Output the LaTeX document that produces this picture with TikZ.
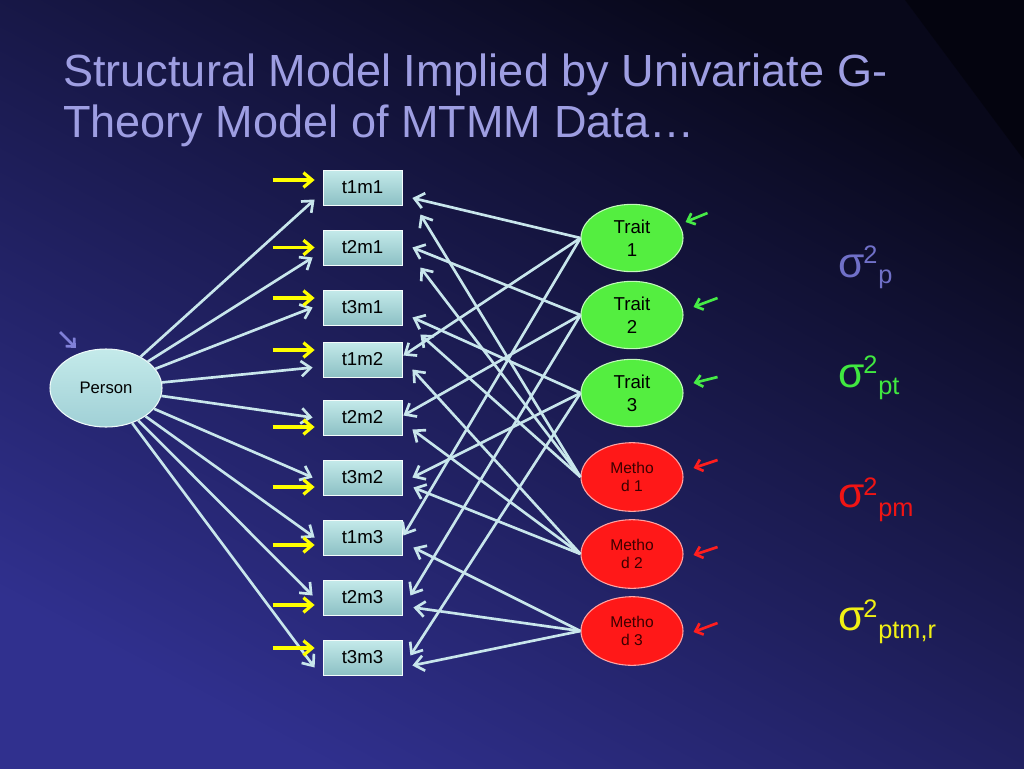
\documentclass[tikz,border=0pt]{standalone}
\usepackage{fontspec}
\setmainfont{Liberation Sans}
\usetikzlibrary{shapes.geometric,arrows.meta,calc}
\definecolor{bgA}{RGB}{48,48,142}
\definecolor{bgM}{RGB}{36,36,112}
\definecolor{bgB}{RGB}{8,8,26}
\definecolor{titlec}{RGB}{158,158,226}
\definecolor{linec}{RGB}{200,230,236}
\definecolor{boxtop}{RGB}{196,234,234}
\definecolor{boxbot}{RGB}{140,192,196}
\definecolor{perstop}{RGB}{196,234,234}
\definecolor{persbot}{RGB}{160,208,214}
\definecolor{traitc}{RGB}{84,238,64}
\definecolor{methc}{RGB}{255,24,24}
\definecolor{methtxt}{RGB}{60,0,0}
\definecolor{yarr}{RGB}{255,255,0}
\definecolor{garr}{RGB}{70,235,70}
\definecolor{rarr}{RGB}{255,30,30}
\definecolor{parr}{RGB}{128,128,216}
\definecolor{sigp}{RGB}{112,112,200}
\definecolor{sigt}{RGB}{64,232,64}
\definecolor{sigm}{RGB}{240,20,20}
\definecolor{sige}{RGB}{240,240,20}
\tikzset{
  obs/.style={rectangle, minimum width=59.25pt, minimum height=26.25pt, inner sep=0pt,
    top color=boxtop, bottom color=boxbot, draw=white!80!boxtop, line width=0.6pt,
    font=\fontsize{14}{16}\selectfont, text=black},
  latperson/.style={ellipse, minimum width=84pt, minimum height=58.5pt, inner sep=0pt,
    top color=perstop, bottom color=persbot, draw=white!70!perstop, line width=0.8pt,
    font=\fontsize{12.5}{14}\selectfont, text=black},
  trait/.style={ellipse, minimum width=76.5pt, minimum height=50.5pt, inner sep=0pt,
    fill=traitc, draw=white!65!traitc, line width=0.8pt, align=center,
    font=\fontsize{14}{17}\selectfont, text=black},
  meth/.style={ellipse, minimum width=76.5pt, minimum height=51.5pt, inner sep=0pt,
    fill=methc, draw=white!60!methc, line width=0.8pt, align=center,
    font=\fontsize{11.7}{13.8}\selectfont, text=methtxt},
  conn/.style={draw=linec, line width=2pt, -{Straight Barb[length=7pt,width=11.5pt]}},
  yerr/.style={draw=yarr, line width=2.4pt, -{Straight Barb[length=6.5pt,width=11pt]}},
  gerr/.style={draw=garr, line width=2pt, -{Straight Barb[length=5pt,width=9pt]}},
  rerr/.style={draw=rarr, line width=2pt, -{Straight Barb[length=5pt,width=9pt]}},
  perr/.style={draw=parr, line width=2pt, -{Straight Barb[length=5pt,width=9pt]}},
  titletext/.style={anchor=base west, inner sep=0pt, text=titlec, font=\fontsize{33.8}{36}\selectfont},
  sigbig/.style={anchor=base west, inner sep=0pt, font=\fontsize{32}{32}\selectfont},
  sigsmall/.style={anchor=base west, inner sep=0pt, font=\fontsize{19}{19}\selectfont},
}
\begin{document}
\begin{tikzpicture}[x=0.75pt,y=-0.75pt]
\useasboundingbox (0,0) rectangle (1024,768);
% background
\shade[bottom color=bgA, middle color=bgM, top color=bgB, shading angle=-28] (0,0) rectangle (1024,768);
\fill[black, opacity=0.4] (905,0) -- (1024,0) -- (1024,160) -- cycle;

% title
\node[titletext] (title1) at (63,86) {Structural Model Implied by Univariate G-};
\node[titletext] (title2) at (63,137) {Theory Model of MTMM Data…};

% nodes
\node[latperson] (person) at (106,388) {Person};
\node[obs] (b11) at (362.5,187.5) {t1m1};
\node[obs] (b21) at (362.5,247.5) {t2m1};
\node[obs] (b31) at (362.5,307.5) {t3m1};
\node[obs] (b12) at (362.5,359.5) {t1m2};
\node[obs] (b22) at (362.5,417.5) {t2m2};
\node[obs] (b32) at (362.5,477.5) {t3m2};
\node[obs] (b13) at (362.5,537.5) {t1m3};
\node[obs] (b23) at (362.5,597.5) {t2m3};
\node[obs] (b33) at (362.5,657.5) {t3m3};
\node[trait] (tr1) at (632,238) {Trait\\1};
\node[trait] (tr2) at (632,315) {Trait\\2};
\node[trait] (tr3) at (632,393) {Trait\\3};
\node[meth] (m1) at (632,477) {Metho\\d 1};
\node[meth] (m2) at (632,554) {Metho\\d 2};
\node[meth] (m3) at (632,631) {Metho\\d 3};

% person loadings
\draw[conn] (person) -- ($(b11.west)+(-8,12)$);
\draw[conn] (person) -- ($(b21.west)+(-10,10)$);
\draw[conn] (person) -- ($(b31.west)+(-10,0)$);
\draw[conn] (person) -- ($(b12.west)+(-10,8)$);
\draw[conn] (person) -- ($(b22.west)+(-10,0)$);
\draw[conn] (person) -- ($(b32.west)+(-10,0)$);
\draw[conn] (person) -- ($(b13.west)+(-8,0)$);
\draw[conn] (person) -- ($(b23.west)+(-10,-2)$);
\draw[conn] (person) -- ($(b33.west)+(-8,10)$);

% trait loadings
\draw[conn] (tr1.west) -- ($(b11.east)+(10,10.5)$);
\draw[conn] (tr1.west) -- ($(b12.east)+(1,-4)$);
\draw[conn] (tr1.west) -- ($(b13.east)+(1,-2)$);
\draw[conn] (tr2.west) -- ($(b21.east)+(10,0)$);
\draw[conn] (tr2.west) -- ($(b22.east)+(1,-2)$);
\draw[conn] (tr2.west) -- ($(b23.east)+(8,-2)$);
\draw[conn] (tr3.west) -- ($(b31.east)+(10,10)$);
\draw[conn] (tr3.west) -- ($(b32.east)+(10,0)$);
\draw[conn] (tr3.west) -- ($(b33.east)+(8,-2)$);

% method loadings
\draw[conn] (m1.west) -- ($(b11.east)+(18,27)$);
\draw[conn] (m1.west) -- ($(b21.east)+(18,20)$);
\draw[conn] (m1.west) -- ($(b31.east)+(18,27)$);
\draw[conn] (m2.west) -- ($(b12.east)+(10,10)$);
\draw[conn] (m2.west) -- ($(b22.east)+(10,12)$);
\draw[conn] (m2.west) -- ($(b32.east)+(11,10)$);
\draw[conn] (m3.west) -- ($(b13.east)+(11,10)$);
\draw[conn] (m3.west) -- ($(b23.east)+(11,10)$);
\draw[conn] (m3.west) -- ($(b33.east)+(10,8)$);

% residual arrows on observed
\draw[yerr] ($(b11.west)+(-50,-7.5)$) -- ($(b11.west)+(-8,-7.5)$);
\draw[yerr] ($(b21.west)+(-50,0)$) -- ($(b21.west)+(-8,0)$);
\draw[yerr] ($(b31.west)+(-50,-9.5)$) -- ($(b31.west)+(-8,-9.5)$);
\draw[yerr] ($(b12.west)+(-50,-9.5)$) -- ($(b12.west)+(-8,-9.5)$);
\draw[yerr] ($(b22.west)+(-50,9.5)$) -- ($(b22.west)+(-8,9.5)$);
\draw[yerr] ($(b32.west)+(-50,9.5)$) -- ($(b32.west)+(-8,9.5)$);
\draw[yerr] ($(b13.west)+(-50,7.5)$) -- ($(b13.west)+(-8,7.5)$);
\draw[yerr] ($(b23.west)+(-50,7.5)$) -- ($(b23.west)+(-8,7.5)$);
\draw[yerr] ($(b33.west)+(-50,-9.5)$) -- ($(b33.west)+(-8,-9.5)$);

% variance arrows on latents
\draw[perr] ($(person)+(-46,-56)$) -- ($(person)+(-30,-40)$);
\draw[gerr] ($(tr1.east)+(24,-25)$) -- ($(tr1.east)+(2,-16)$);
\draw[gerr] ($(tr2.east)+(34,-17)$) -- ($(tr2.east)+(10,-8)$);
\draw[gerr] ($(tr3.east)+(34,-16)$) -- ($(tr3.east)+(10,-10)$);
\draw[rerr] ($(m1.east)+(34,-17)$) -- ($(m1.east)+(10,-9)$);
\draw[rerr] ($(m2.east)+(34,-7)$) -- ($(m2.east)+(10,1)$);
\draw[rerr] ($(m3.east)+(34,-8)$) -- ($(m3.east)+(10,1)$);

% variance components
\node[sigbig, text=sigp] (sp) at (838,277) {σ};
\node[sigsmall, text=sigp] (sp2) at (863,263) {2};
\node[sigsmall, text=sigp] (spsub) at (878,283) {p};
\node[sigbig, text=sigt] (st) at (838,387) {σ};
\node[sigsmall, text=sigt] (st2) at (863,373) {2};
\node[sigsmall, text=sigt] (stsub) at (878,394) {pt};
\node[sigbig, text=sigm] (sm) at (838,507) {σ};
\node[sigsmall, text=sigm] (sm2) at (863,495) {2};
\node[sigsmall, text=sigm] (smsub) at (878,516) {pm};
\node[sigbig, text=sige] (se) at (838,630) {σ};
\node[sigsmall, text=sige] (se2) at (863,617) {2};
\node[sigsmall, text=sige] (sesub) at (878,638) {ptm,r};
\end{tikzpicture}
\end{document}
